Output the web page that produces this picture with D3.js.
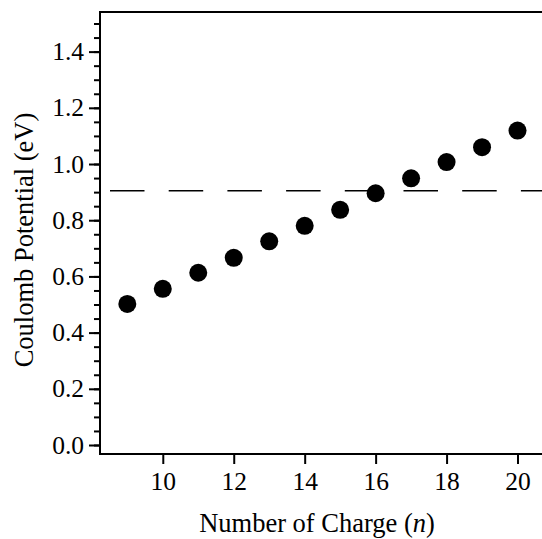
<!DOCTYPE html>
<html>
<head>
<meta charset="utf-8">
<script src="https://cdn.jsdelivr.net/npm/d3@7"></script>
<style>
  body { margin: 0; background: #fff; }
  svg text { font-family: "Liberation Serif", "Times New Roman", serif; fill: #000; }
</style>
</head>
<body>
<div id="plot-container"></div>
<script>
// Number of charge n vs Coulomb potential (eV)
const charges = [9, 10, 11, 12, 13, 14, 15, 16, 17, 18, 19, 20];
const potentials = [0.502, 0.556, 0.613, 0.666, 0.725, 0.780, 0.837, 0.896, 0.949, 1.007, 1.060, 1.119];
const thresholdValue = 0.905;
const xTicks = [10, 12, 14, 16, 18, 20];
const yTicks = [0.0, 0.2, 0.4, 0.6, 0.8, 1.0, 1.2, 1.4];
const yMinorTicks = d3.range(0, 1.5001, 0.05);

const W = 542, H = 539;
const margin = { top: 12, right: 0, bottom: 85, left: 100 };
const serif = '"Liberation Serif", "Times New Roman", serif';

const svg = d3.select('#plot-container')
  .append('svg')
  .attr('width', W)
  .attr('height', H)
  .attr('font-family', serif);

const x = d3.scaleLinear()
  .domain([8.23, 20.69])
  .range([margin.left, W - margin.right]);

const y = d3.scaleLinear()
  .domain([-0.032, 1.541])
  .range([H - margin.bottom, margin.top]);

// frame: left, top, bottom (right side open)
svg.append('path')
  .attr('d', `M${W},${margin.top}H${margin.left}V${H - margin.bottom}H${W}`)
  .attr('fill', 'none')
  .attr('stroke', '#000')
  .attr('stroke-width', 2);

// y minor ticks
svg.append('g')
  .attr('transform', `translate(${margin.left},0)`)
  .call(d3.axisLeft(y).tickValues(yMinorTicks).tickSize(6).tickFormat(''))
  .call(g => g.select('.domain').remove())
  .selectAll('line').attr('stroke-width', 2);

// y major ticks
const yAxis = svg.append('g')
  .attr('transform', `translate(${margin.left},0)`)
  .call(d3.axisLeft(y).tickValues(yTicks).tickSize(11).tickPadding(5).tickFormat(d3.format('.1f')))
  .attr('font-family', serif)
  .attr('font-size', 25.5);
yAxis.select('.domain').remove();
yAxis.selectAll('line').attr('stroke-width', 2);

// x ticks
const xAxis = svg.append('g')
  .attr('transform', `translate(0,${H - margin.bottom})`)
  .call(d3.axisBottom(x).tickValues(xTicks).tickSize(10).tickPadding(8).tickFormat(d3.format('d')))
  .attr('font-family', serif)
  .attr('font-size', 25.5);
xAxis.select('.domain').remove();
xAxis.selectAll('line').attr('stroke-width', 2);

// dashed reference line
svg.append('line')
  .attr('x1', x.range()[0])
  .attr('x2', x.range()[1])
  .attr('y1', y(thresholdValue))
  .attr('y2', y(thresholdValue))
  .attr('stroke', '#000')
  .attr('stroke-width', 1.6)
  .attr('stroke-dasharray', '34.5,24.2')
  .attr('stroke-dashoffset', 48.7);

// points
svg.append('g')
  .selectAll('circle')
  .data(charges)
  .join('circle')
  .attr('cx', d => x(d))
  .attr('cy', (d, i) => y(potentials[i]))
  .attr('r', 9)
  .attr('fill', '#000');

// axis titles
const xTitle = svg.append('text')
  .attr('x', (margin.left + W) / 2 - 4)
  .attr('y', 532)
  .attr('text-anchor', 'middle')
  .attr('font-size', 26.5);
xTitle.append('tspan').text('Number of Charge (');
xTitle.append('tspan').attr('font-style', 'italic').text('n');
xTitle.append('tspan').text(')');

svg.append('text')
  .attr('transform', `translate(33,${240}) rotate(-90)`)
  .attr('text-anchor', 'middle')
  .attr('font-size', 26.5)
  .text('Coulomb Potential (eV)');
</script>
</body>
</html>
